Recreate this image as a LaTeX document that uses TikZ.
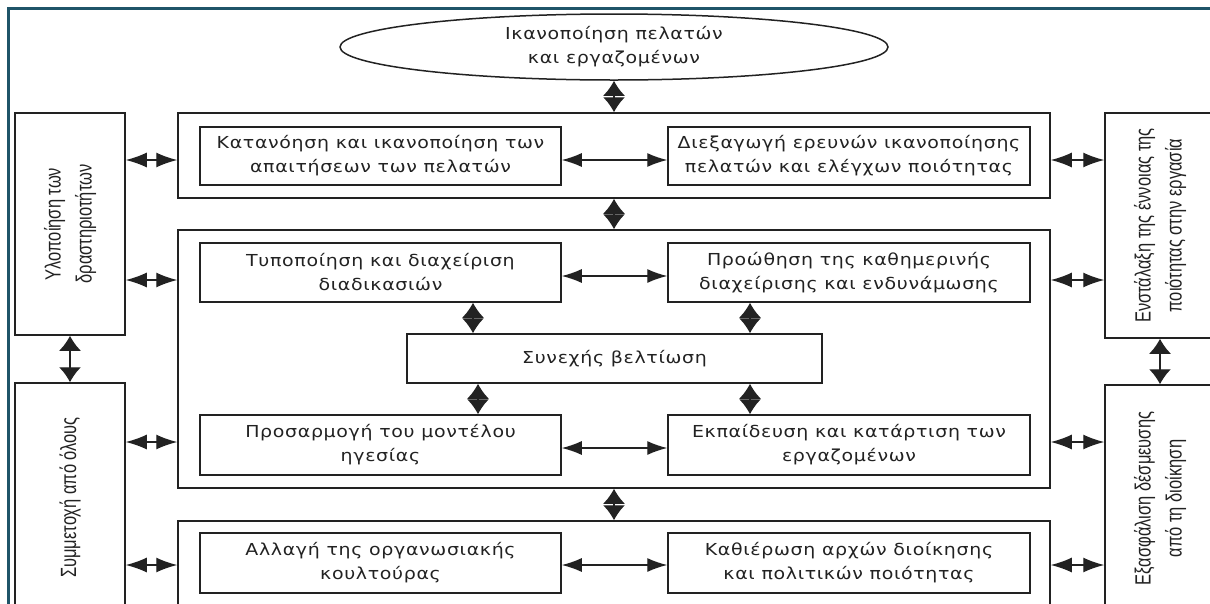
\documentclass[tikz,border=0pt]{standalone}
\usepackage{fontspec}
\usepackage{graphicx}
\setmainfont{DejaVu Sans}[FakeStretch=1.15, LetterSpace=4]
\newfontfamily\narrowfont[FakeStretch=0.75]{Liberation Sans}
\usetikzlibrary{shapes.geometric,arrows.meta}
\definecolor{frameteal}{HTML}{1F5468}
\definecolor{ink}{HTML}{222222}
\newcommand{\sidetext}[1]{\rotatebox{90}{\begin{tabular}{@{}c@{}}#1\end{tabular}}}
\begin{document}
\begin{tikzpicture}[x=1pt,y=-1pt,
  box/.style={draw=ink, line width=1.5pt, rectangle, inner sep=0pt, text=ink},
  group/.style={box},
  card/.style={box, align=center, font=\fontsize{16.5}{24}\selectfont},
  sidebox/.style={box, font=\narrowfont\fontsize{22}{31}\selectfont},
  goal/.style={draw=ink, line width=1.5pt, ellipse, inner sep=0pt, align=center,
    text=ink, font=\fontsize{16.5}{24}\selectfont},
  link/.style={ink, line width=1.3pt, {Latex[length=20pt,width=14pt]}-{Latex[length=20pt,width=14pt]}},
  sidelink/.style={ink, line width=1.3pt, {Latex[length=21pt,width=15pt]}-{Latex[length=21pt,width=15pt]}},
  vlink/.style={ink, line width=1.3pt, {Latex[length=15pt,width=22pt]}-{Latex[length=15pt,width=22pt]}},
]
\useasboundingbox (0,0) rectangle (1210,603);
\begin{scope}
\clip (0,0) rectangle (1210,603);
% page frame
\draw[frameteal, line width=3pt] (8.5,640) -- (8.5,8.5) -- (1240,8.5);

% goal
\node[goal, minimum width=548, minimum height=66] (goal) at (614,47)
  {Ικανοποίηση πελατών\\και εργαζομένων};

% three central groups
\node[group, minimum width=872, minimum height=85] (g1) at (614,155.5) {};
\node[group, minimum width=872, minimum height=258] (g2) at (614,359) {};
\node[group, minimum width=872, minimum height=86] (g3) at (614,564) {};

% cards
\node[card, minimum width=361, minimum height=58] (c1l) at (380.5,156)
  {Κατανόηση και ικανοποίηση των\\απαιτήσεων των πελατών};
\node[card, minimum width=362, minimum height=58] (c1r) at (849,156)
  {Διεξαγωγή ερευνών ικανοποίησης\\πελατών και ελέγχων ποιότητας};
\node[card, minimum width=361, minimum height=59] (c2l) at (380.5,272.5)
  {Τυποποίηση και διαχείριση\\διαδικασιών};
\node[card, minimum width=362, minimum height=59] (c2r) at (849,272.5)
  {Προώθηση της καθημερινής\\διαχείρισης και ενδυνάμωσης};
\node[card, minimum width=415, minimum height=49] (cont) at (614.5,358.5)
  {Συνεχής βελτίωση};
\node[card, minimum width=361, minimum height=60] (c3l) at (380.5,445)
  {Προσαρμογή του μοντέλου\\ηγεσίας};
\node[card, minimum width=362, minimum height=60] (c3r) at (849,445)
  {Εκπαίδευση και κατάρτιση των\\εργαζομένων};
\node[card, minimum width=361, minimum height=60] (c4l) at (380.5,563)
  {Αλλαγή της οργανωσιακής\\κουλτούρας};
\node[card, minimum width=362, minimum height=60] (c4r) at (849,563)
  {Καθιέρωση αρχών διοίκησης\\και πολιτικών ποιότητας};

% side boxes
\node[sidebox, minimum width=110, minimum height=222] (s1l) at (70,224)
  {\sidetext{Υλοποίηση των\\δραστηριοτήτων}};
\node[sidebox, minimum width=110, minimum height=229] (s2l) at (70,497.5)
  {\sidetext{Συμμετοχή από όλους}};
\node[sidebox, minimum width=110, minimum height=225] (s1r) at (1160,225.5)
  {\sidetext{Ενστάλαξη της έννοιας της\\ποιότητας στην εργασία}};
\node[sidebox, minimum width=110, minimum height=227] (s2r) at (1160,498.5)
  {\sidetext{Εξασφάλιση δέσμευσης\\από τη διοίκηση}};

% vertical links along the spine
\draw[vlink] (goal.south) -- (g1.north);
\draw[vlink] (g1.south) -- (g2.north);
\draw[vlink] (g2.south) -- (g3.north);
\draw[vlink] (c2l.south -| 473,0) -- (cont.north -| 473,0);
\draw[vlink] (c2r.south -| 750,0) -- (cont.north -| 750,0);
\draw[vlink] (cont.south -| 478,0) -- (c3l.north -| 478,0);
\draw[vlink] (cont.south -| 750,0) -- (c3r.north -| 750,0);
\draw[vlink] (s1l.south) -- (s2l.north);
\draw[vlink] (s1r.south) -- (s2r.north);

% links between cards
\draw[link] (c1l.east |- 0,160) -- (c1r.west |- 0,160);
\draw[link] (c2l.east |- 0,276) -- (c2r.west |- 0,276);
\draw[link] (c3l.east |- 0,448) -- (c3r.west |- 0,448);
\draw[link] (c4l.east |- 0,565) -- (c4r.west |- 0,565);

% links from the side boxes
\draw[sidelink] (s1l.east |- 0,160) -- (g1.west |- 0,160);
\draw[sidelink] (s1l.east |- 0,280) -- (g2.west |- 0,280);
\draw[sidelink] (s2l.east |- 0,442) -- (g2.west |- 0,442);
\draw[sidelink] (s2l.east |- 0,565) -- (g3.west |- 0,565);
\draw[sidelink] (g1.east |- 0,160) -- (s1r.west |- 0,160);
\draw[sidelink] (g2.east |- 0,280) -- (s1r.west |- 0,280);
\draw[sidelink] (g2.east |- 0,442) -- (s2r.west |- 0,442);
\draw[sidelink] (g3.east |- 0,565) -- (s2r.west |- 0,565);
\end{scope}
\end{tikzpicture}
\end{document}
